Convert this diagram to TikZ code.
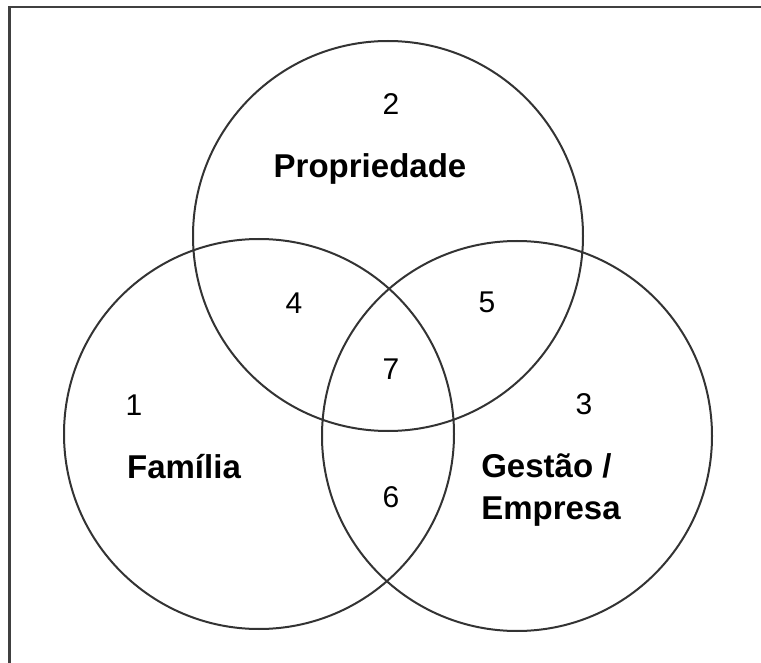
\documentclass[tikz,border=0pt]{standalone}
\usepackage{fontspec}
\setmainfont{Liberation Sans}
\usepackage{tikz}
\usetikzlibrary{positioning}

\tikzset{
  venn/.style={circle, draw=black!80, line width=2pt, minimum size=390pt, inner sep=0pt},
  area/.style={font=\fontsize{30}{34}\selectfont},
  label/.style={font=\fontsize{33}{42}\selectfont\bfseries, align=left}
}

\begin{document}
\begin{tikzpicture}[x=1pt, y=-1pt]
  \useasboundingbox (0,0) rectangle (761,663);
  \draw[black!75, line width=2.4pt] (9.5,663) -- (9.5,7) -- (761,7);

  \node[venn] (prop) at (388,236) {};
  \node[venn] (fam) at (259,434) {};
  \node[venn] (emp) at (517,436) {};

  \node[area] (n2) at (391,104) {2};
  \node[label] (lprop) at (370,169) {Propriedade};
  \node[area] (n4) at (294,303) {4};
  \node[area] (n5) at (487,302) {5};
  \node[area] (n7) at (391,369) {7};
  \node[area] (n1) at (134,405) {1};
  \node[area] (n3) at (584,404) {3};
  \node[label] (lfam) at (184,467) {Família};
  \node[area] (n6) at (391,497) {6};
  \node[label] (lemp) at (551,490) {Gestão /\\Empresa};
\end{tikzpicture}
\end{document}
